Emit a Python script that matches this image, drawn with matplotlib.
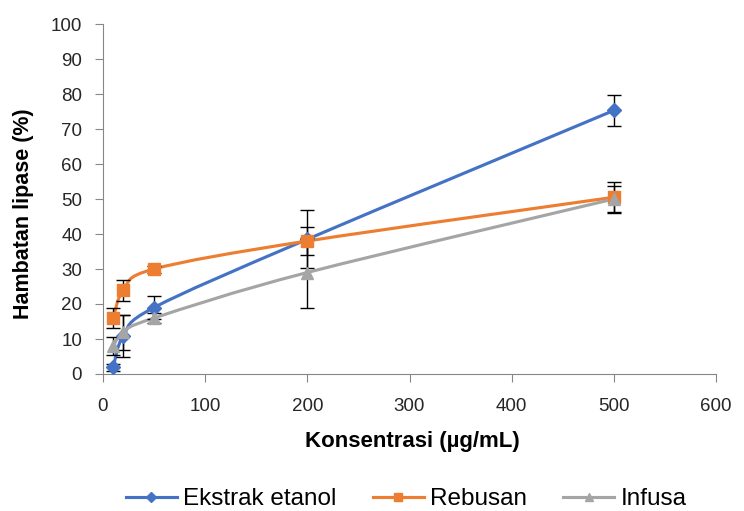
import numpy as np
import matplotlib
matplotlib.use("Agg")
import matplotlib.pyplot as plt
from matplotlib.path import Path
from matplotlib.patches import PathPatch
from matplotlib.lines import Line2D

plt.rcParams['font.family'] = ['Liberation Sans', 'DejaVu Sans']

# data
konsentrasi = [10, 20, 50, 200, 500]
etanol = [2, 11, 19, 38.5, 75.3]
etanol_err = [1.0, 6.0, 3.3, 8.3, 4.5]
rebusan = [16, 24, 30, 38, 50.5]
rebusan_err = [2.9, 3.0, 1.0, 4.1, 4.5]
infusa = [8, 12, 16, 29, 50]
infusa_err = [2.6, 5.0, 1.5, 10.0, 3.8]

series = [
    ("Ekstrak etanol", etanol, etanol_err, "#4472C4", "D", 7),
    ("Rebusan", rebusan, rebusan_err, "#ED7D31", "s", 8),
    ("Infusa", infusa, infusa_err, "#A5A5A5", "^", 8),
]


def smooth_path(ax, xs, ys):
    # excel-style smoothed line: cubic bezier through points (in display space)
    pts = ax.transData.transform(np.column_stack([xs, ys]))
    verts = [pts[0]]
    codes = [Path.MOVETO]
    n = len(pts)
    for i in range(n - 1):
        p0 = pts[i - 1] if i > 0 else pts[i]
        p1 = pts[i]
        p2 = pts[i + 1]
        p3 = pts[i + 2] if i + 2 < n else pts[i + 1]
        c1 = p1 + (p2 - p0) / 6.0
        c2 = p2 - (p3 - p1) / 6.0
        verts += [c1, c2, p2]
        codes += [Path.CURVE4] * 3
    return Path(verts, codes)


fig = plt.figure(figsize=(7.44, 5.11), dpi=100)
ax = fig.add_axes([103 / 744, 1 - 374 / 511, 613 / 744, 350 / 511])
ax.set_xlim(0, 600)
ax.set_ylim(0, 100)
ax.set_xticks(range(0, 601, 100))
ax.set_yticks(range(0, 101, 10))

for name, ys, err, col, mk, ms in series:
    p = smooth_path(ax, konsentrasi, ys)
    ax.add_patch(PathPatch(p, transform=None, fill=False, edgecolor=col, lw=2.25,
                           zorder=3, capstyle='round'))
    ax.errorbar(konsentrasi, ys, yerr=err, fmt='none', ecolor='black', elinewidth=1,
                capsize=5, capthick=1, zorder=4)
    ax.plot(konsentrasi, ys, linestyle='none', marker=mk, ms=ms, color=col, zorder=5)

for s in ['top', 'right']:
    ax.spines[s].set_visible(False)
for s in ['left', 'bottom']:
    ax.spines[s].set_color('#868686')
ax.tick_params(axis='both', color='#868686', labelsize=13.5, length=6, direction='out',
               labelcolor='#262626')
ax.tick_params(axis='y', pad=9)
ax.tick_params(axis='x', pad=11)

ax.set_xlabel("Konsentrasi (µg/mL)", fontsize=16, fontweight='bold')
ax.set_ylabel("Hambatan lipase (%)", fontsize=15.5, fontweight='bold')
ax.xaxis.set_label_coords(0.505, (374 - 431) / 350)
ax.yaxis.set_label_coords((34 - 103) / 613, (374 - 214) / 350)

handles = [Line2D([], [], color=c, lw=2.25, marker=m, ms=ms * 0.8) for _, _, _, c, m, ms in series]
fig.legend(handles, [s[0] for s in series], loc='center', bbox_to_anchor=(406 / 744, 1 - 499 / 511),
           ncol=3, frameon=False, fontsize=17.5, handlelength=2.1, columnspacing=1.5,
           handletextpad=0.25)

fig.savefig("out.png", dpi=100)
